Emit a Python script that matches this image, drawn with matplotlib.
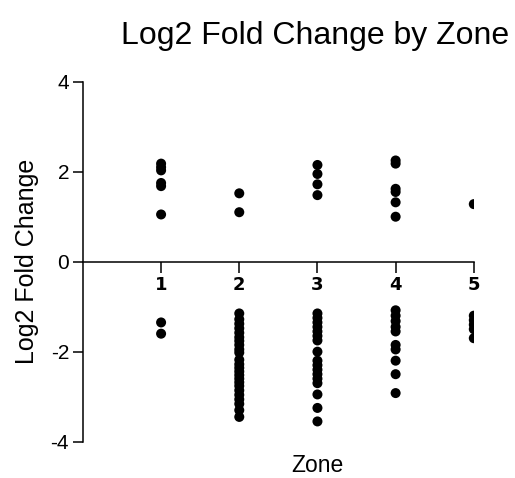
import numpy as np
import matplotlib.pyplot as plt

# log2 fold change per zone
zones = [1, 2, 3, 4, 5]
zone1 = [2.18, 2.10, 2.03, 1.75, 1.68, 1.05, -1.35, -1.60]
zone2 = [1.52, 1.10,
         -1.15, -1.28, -1.38, -1.48, -1.58, -1.68, -1.76, -1.85, -1.95, -2.02,
         -2.18, -2.28, -2.36, -2.44, -2.52, -2.60, -2.68, -2.76, -2.86, -2.96,
         -3.06, -3.16, -3.30, -3.45]
zone3 = [2.15, 1.95, 1.72, 1.48,
         -1.15, -1.25, -1.35, -1.45, -1.55, -1.65, -1.75, -2.00, -2.20, -2.30,
         -2.40, -2.50, -2.60, -2.70, -2.95, -3.25, -3.55]
zone4 = [2.25, 2.18, 1.62, 1.55, 1.32, 1.00,
         -1.08, -1.20, -1.32, -1.45, -1.55, -1.85, -1.95, -2.20, -2.50, -2.92]
zone5 = [1.28, -1.20, -1.30, -1.40, -1.50, -1.70]
values = [zone1, zone2, zone3, zone4, zone5]

plt.rcParams['font.family'] = ['Liberation Sans', 'DejaVu Sans']
plt.rcParams['axes.unicode_minus'] = False

fig = plt.figure(figsize=(5.15, 4.78), dpi=100)
ax = fig.add_axes([0.161, 0.076, 0.759, 0.753])

for z, v in zip(zones, values):
    ax.scatter(np.full(len(v), z), v, s=52, color='black', edgecolors='none', zorder=3)

ax.set_xlim(0, 5)
ax.set_ylim(-4, 4)
ax.set_yticks([-4, -2, 0, 2, 4])
ax.set_xticks(zones)

ax.spines['top'].set_visible(False)
ax.spines['right'].set_visible(False)
ax.spines['bottom'].set_position(('data', 0))
for s in ('left', 'bottom'):
    ax.spines[s].set_linewidth(1.1)

ax.tick_params(axis='x', direction='out', length=8, width=1.1, pad=2)
ax.tick_params(axis='y', direction='out', length=7, width=1.1, labelsize=15, pad=3)

# zone numbers sit just under the zero line in bold
for lbl in ax.get_xticklabels():
    lbl.set_family('DejaVu Sans')
    lbl.set_fontweight('bold')
    lbl.set_fontsize(13)

ax.set_title('Log2 Fold Change by Zone', fontsize=23, pad=27, x=0.595)
ax.set_ylabel('Log2 Fold Change', fontsize=18, labelpad=8)
ax.set_xlabel('Zone', fontsize=16.5)
ax.xaxis.set_label_coords(0.6, -0.035)

fig.savefig('out.png', dpi=100)
